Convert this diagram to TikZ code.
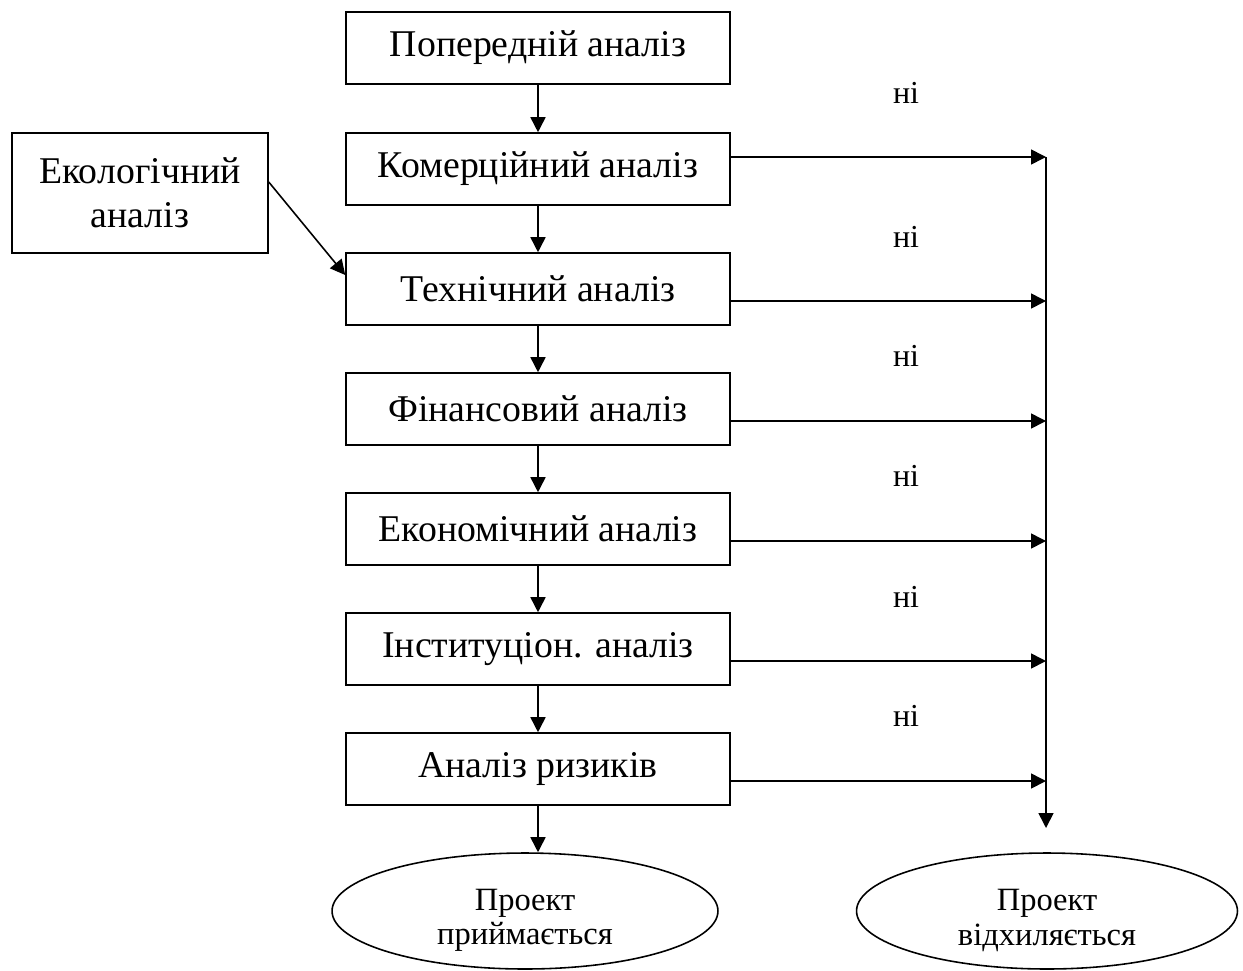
\documentclass[tikz,border=0pt]{standalone}
\usepackage{fontspec}
\setmainfont{Liberation Serif}
\usetikzlibrary{arrows.meta,shapes.geometric}

\tikzset{
  stage/.style={draw, line width=0.9pt, minimum width=7.68cm, minimum height=1.44cm,
    inner sep=0pt, font=\fontsize{21.5}{25}\selectfont},
  outcome/.style={draw, ellipse, line width=0.9pt, minimum height=2.32cm, inner sep=0pt},
  outcometext/.style={align=center, yshift=-0.19cm, font=\fontsize{18.5}{19.5}\selectfont},
  nolabel/.style={inner sep=0pt, font=\fontsize{18.2}{21}\selectfont},
}

\begin{document}
\begin{tikzpicture}[x=0.02cm, y=-0.02cm, line width=0.9pt,
    >={Triangle[length=0.3cm,width=0.3cm]}]
  \useasboundingbox (0,0) rectangle (1243,970);
  % main column
  \node[stage] (prelim)  at (538,48)  {Попередній аналіз};
  \node[stage] (commerc) at (538,169) {Комерційний аналіз};
  \node[stage] (tech)    at (538,289) {Технічний аналіз};
  \node[stage] (fin)     at (538,409) {Фінансовий аналіз};
  \node[stage] (econ)    at (538,529) {Економічний аналіз};
  \node[stage] (inst)    at (538,649) {Інституціон. аналіз};
  \node[stage] (risk)    at (538,769) {Аналіз ризиків};
  \node[stage, minimum width=5.12cm, minimum height=2.4cm, align=center] (ecol) at (140,193)
    {Екологічний\\аналіз};
  % outcomes
  \node[outcome, minimum width=7.72cm,
    label={[outcometext]center:Проект\\приймається}] (accept) at (525,911) {};
  \node[outcome, minimum width=7.62cm,
    label={[outcometext]center:Проект\\відхиляється}] (reject) at (1047,911) {};
  % labels
  \node[nolabel] (no1) at (906,93)  {ні};
  \node[nolabel] (no2) at (906,237) {ні};
  \node[nolabel] (no3) at (906,356) {ні};
  \node[nolabel] (no4) at (906,476) {ні};
  \node[nolabel] (no5) at (906,597) {ні};
  \node[nolabel] (no6) at (906,716) {ні};
  % rejection rail
  \coordinate (rail1) at (1046,157);
  \coordinate (rail2) at (1046,301);
  \coordinate (rail3) at (1046,421);
  \coordinate (rail4) at (1046,541);
  \coordinate (rail5) at (1046,661);
  \coordinate (rail6) at (1046,781);
  \coordinate (railend) at (1046,828);
  \draw[->] (rail1) -- (railend);
  \draw[->] (commerc.east |- rail1) -- (rail1);
  \draw[->] (tech.east |- rail2) -- (rail2);
  \draw[->] (fin.east |- rail3) -- (rail3);
  \draw[->] (econ.east |- rail4) -- (rail4);
  \draw[->] (inst.east |- rail5) -- (rail5);
  \draw[->] (risk.east |- rail6) -- (rail6);
  % flow down
  \draw[->] (prelim) -- (commerc);
  \draw[->] (commerc) -- (tech);
  \draw[->] (tech) -- (fin);
  \draw[->] (fin) -- (econ);
  \draw[->] (econ) -- (inst);
  \draw[->] (inst) -- (risk);
  \draw[->] (risk) -- (risk.south |- accept.north);
  \draw[->] ([yshift=0.22cm]ecol.east) -- ([yshift=0.28cm]tech.west);
\end{tikzpicture}
\end{document}
